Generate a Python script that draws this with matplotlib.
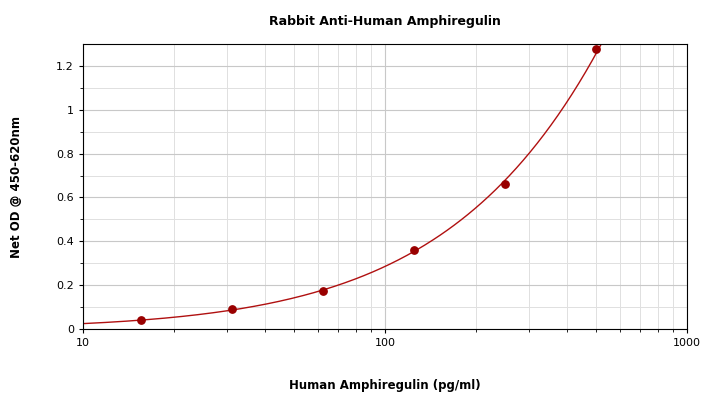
import numpy as np
import matplotlib
matplotlib.use("Agg")
import matplotlib.pyplot as plt
from matplotlib.ticker import FixedLocator, FuncFormatter

conc = [15.6, 31.25, 62.5, 125, 250, 500]
od = [0.04, 0.09, 0.175, 0.36, 0.66, 1.275]

fig = plt.figure(figsize=(7.03, 4.0), dpi=100)
ax = fig.add_axes([83/703, 71/400, 604/703, 285/400])
ax.set_xscale('log')
ax.set_xlim(10, 1000)
ax.set_ylim(0, 1.3)

coef = np.polyfit(np.log10(conc), np.log10(od), 2)
xs = np.logspace(1, np.log10(520), 300)
ax.plot(xs, 10**np.polyval(coef, np.log10(xs)), color='#b01010', lw=1)
ax.scatter(conc, od, color='#990000', s=28, zorder=3)

ax.yaxis.set_major_locator(FixedLocator([0, 0.2, 0.4, 0.6, 0.8, 1.0, 1.2]))
ax.yaxis.set_minor_locator(FixedLocator(np.arange(0.1, 1.3, 0.2)))
ax.yaxis.set_major_formatter(FuncFormatter(lambda v, p: f"{v:g}"))
ax.xaxis.set_major_formatter(FuncFormatter(lambda v, p: f"{v:g}"))
ax.grid(True, which='major', color='#c8c8c8', lw=0.8)
ax.grid(True, which='minor', color='#e0e0e0', lw=0.7)
ax.tick_params(labelsize=8, length=3)
ax.tick_params(which='minor', labelbottom=False, length=2)

ax.set_title('Rabbit Anti-Human Amphiregulin', fontsize=9, fontweight='bold', pad=14)
ax.set_xlabel('Human Amphiregulin (pg/ml)', fontsize=8.5, fontweight='bold', labelpad=22)
ax.set_ylabel('Net OD @ 450-620nm', fontsize=8.5, fontweight='bold', labelpad=24)
fig.savefig('out.png', dpi=100)
